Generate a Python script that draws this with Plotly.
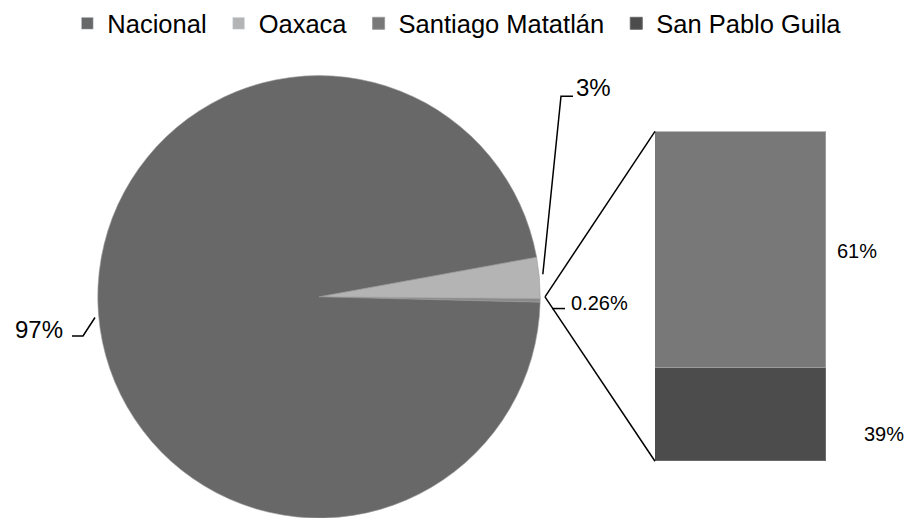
import math
import plotly.graph_objects as go

# ---------------- data ----------------
pie_labels = ["Otros", "Oaxaca", "Nacional"]
pie_values = [0.26, 3.0, 96.74]
pie_text = ["0.26%", "3%", "97%"]

bar_labels = ["Santiago Matatlán", "San Pablo Guila"]
bar_heights = [72, 28]          # segment heights as drawn
bar_text = ["61%", "39%"]

legend_names = ["Nacional", "Oaxaca", "Santiago Matatlán", "San Pablo Guila"]

# ---------------- styling / layout helpers ----------------
W, H = 911, 518
FONT = "Arial, Liberation Sans, sans-serif"
C_NAC, C_OAX, C_OTH = "#686868", "#b4b4b4", "#8a8a8a"
C_SM, C_SP = "#787878", "#4c4c4c"
PAD = "\u00a0"


def px(x):
    return x / W


def py(y):
    return 1 - y / H


PIE_CX, PIE_CY, PIE_R = 319, 292, 226
BAR_L, BAR_R, BAR_T, BAR_B = 655, 826, 123, 460

total = sum(pie_values)
fracs = [v / total for v in pie_values]
start_deg = -fracs[0] * 360 / 2
slice_ang = []
acc = start_deg
for f in fracs:
    slice_ang.append((acc, acc + f * 360))
    acc += f * 360


def on_pie(deg, r=PIE_R):
    a = math.radians(deg)
    return PIE_CX + r * math.cos(a), PIE_CY - r * math.sin(a)


fig = go.Figure()

fig.add_trace(go.Pie(
    labels=pie_labels, values=pie_values, sort=False,
    direction="counterclockwise", rotation=90 + fracs[0] * 360 / 2,
    marker=dict(colors=[C_OTH, C_OAX, C_NAC], line=dict(color="#9a9a9a", width=0.6)),
    textinfo="none", showlegend=False,
    domain=dict(x=[px(PIE_CX - PIE_R), px(PIE_CX + PIE_R)],
                y=[py(PIE_CY + PIE_R), py(PIE_CY - PIE_R)]),
))

# legend-only entries for pie categories
fig.add_trace(go.Bar(x=[None], y=[None], name=legend_names[0] + PAD, marker_color=C_NAC,
                     legendrank=1, xaxis="x", yaxis="y"))
fig.add_trace(go.Bar(x=[None], y=[None], name=legend_names[1] + PAD, marker_color=C_OAX,
                     legendrank=2, xaxis="x", yaxis="y"))

# stacked bar (bottom first)
fig.add_trace(go.Bar(x=[0], y=[bar_heights[1]], name=legend_names[3], marker_color=C_SP,
                     marker_line=dict(color="#6a6a6a", width=1), legendrank=4))
fig.add_trace(go.Bar(x=[0], y=[bar_heights[0]], name=legend_names[2] + PAD, marker_color=C_SM,
                     marker_line=dict(color="#9a9a9a", width=1), legendrank=3))

shapes = []
line = dict(color="black", width=1.5)

# connector lines: pie "other" slice edge to bar corners
ox, oy = on_pie(0)
shapes.append(dict(type="line", xref="paper", yref="paper",
                   x0=px(ox), y0=py(oy), x1=px(BAR_L), y1=py(BAR_T), line=line))
shapes.append(dict(type="line", xref="paper", yref="paper",
                   x0=px(ox), y0=py(oy), x1=px(BAR_L), y1=py(BAR_B), line=line))

# leader line for Oaxaca (3%)
ax, ay = on_pie(sum(slice_ang[1]) / 2, PIE_R - 1)
shapes.append(dict(type="path", xref="paper", yref="paper",
                   path=f"M{px(ax)},{py(ay)} L{px(561)},{py(87)} L{px(573)},{py(87)}",
                   line=line))
# leader line for Nacional (97%)
nx, ny = on_pie(sum(slice_ang[2]) / 2, PIE_R - 1)
shapes.append(dict(type="path", xref="paper", yref="paper",
                   path=f"M{px(nx)},{py(ny)} L{px(83)},{py(332)} L{px(72)},{py(332)}",
                   line=line))
# leader for other (0.26%)
shapes.append(dict(type="line", xref="paper", yref="paper",
                   x0=px(552), y0=py(304), x1=px(565), y1=py(304), line=line))

annotations = [
    dict(text=pie_text[2], x=px(65), y=py(325), xanchor="right", yanchor="middle",
         font=dict(size=24)),
    dict(text=pie_text[1], x=px(574), y=py(78), xanchor="left", yanchor="middle",
         font=dict(size=24)),
    dict(text=pie_text[0], x=px(569), y=py(298), xanchor="left", yanchor="middle",
         font=dict(size=20)),
    dict(text=bar_text[0], x=px(835), y=py(245), xanchor="left", yanchor="middle",
         font=dict(size=20)),
    dict(text=bar_text[1], x=px(862), y=py(432), xanchor="left", yanchor="middle",
         font=dict(size=20)),
]
for a in annotations:
    a.update(xref="paper", yref="paper", showarrow=False)

fig.update_layout(
    width=W, height=H,
    margin=dict(l=0, r=0, t=0, b=0),
    paper_bgcolor="white", plot_bgcolor="white",
    font=dict(family=FONT, color="black", size=20),
    barmode="stack", bargap=0,
    xaxis=dict(domain=[px(BAR_L), px(BAR_R)], range=[-0.5, 0.5], visible=False,
               fixedrange=True),
    yaxis=dict(domain=[py(BAR_B), py(BAR_T)], range=[0, sum(bar_heights)], visible=False,
               fixedrange=True),
    legend=dict(orientation="h", x=0.502, xanchor="center", y=py(-11), yanchor="top",
                font=dict(size=25.5, family=FONT), traceorder="normal",
                bgcolor="rgba(0,0,0,0)"),
    shapes=shapes, annotations=annotations,
)

fig.write_html(
    "out.html",
    config={"displayModeBar": False},
    post_script="document.body.style.margin='0';document.body.style.padding='0';"
                "document.body.style.overflow='hidden';",
)
